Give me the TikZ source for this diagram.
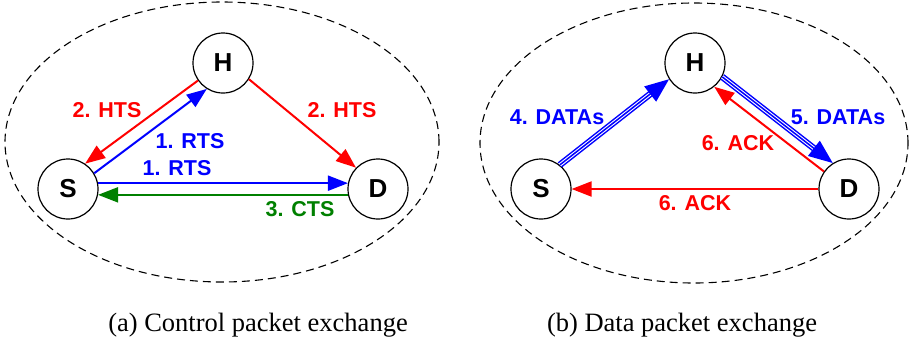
\documentclass[tikz,border=0pt]{standalone}
\usepackage{fontspec}
\setmainfont{Liberation Serif}
\setsansfont{Liberation Sans}
\usetikzlibrary{arrows.meta,calc}
\definecolor{myred}{RGB}{255,0,0}
\definecolor{myblue}{RGB}{0,0,255}
\definecolor{mygreen}{RGB}{0,128,0}
\begin{document}
\begin{tikzpicture}[x=1pt,y=-1pt,
  vert/.style={circle,draw,line width=1.2pt,minimum size=60pt,inner sep=0pt,font=\sffamily\bfseries\fontsize{26}{30}\selectfont},
  lab/.style={font=\sffamily\bfseries\fontsize{21.5}{25}\selectfont},
  captext/.style={font=\fontsize{26.5}{30}\selectfont},
  conn/.style={line width=2pt,-{Triangle[length=20pt,width=15pt]}},
  datal/.style={line width=1.5pt},
  border/.style={dashed,line width=1.1pt,dash pattern=on 8pt off 5pt}]
\useasboundingbox (0,0) rectangle (910,341);
% left panel
\draw[border] (222,142) ellipse [x radius=217pt, y radius=140pt];
\node[vert] (H1) at (223,63) {H};
\node[vert] (S1) at (68,189) {S};
\node[vert] (D1) at (378,189) {D};
\draw[conn,myred] (H1.215) -- (S1.56);
\draw[conn,myblue] (S1.31) -- (H1.238);
\draw[conn,myred] (H1.328) -- (D1.136);
\draw[conn,myblue] (S1.11) -- (D1.169);
\draw[conn,mygreen] (D1.191) -- (S1.349);
\node[lab,myred] (l1) at (107,110) {2. HTS};
\node[lab,myblue] (l2) at (190,141) {1. RTS};
\node[lab,myblue] (l3) at (177,168) {1. RTS};
\node[lab,myred] (l4) at (342,110) {2. HTS};
\node[lab,mygreen] (l5) at (300,209) {3. CTS};
\node[captext] (c1) at (258,325) {(a) Control packet exchange};
% right panel
\draw[border] (694,143) ellipse [x radius=214pt, y radius=140pt];
\node[vert] (H2) at (695,63) {H};
\node[vert] (S2) at (541,189) {S};
\node[vert] (D2) at (849,189) {D};
\coordinate (a1) at (S2.52);
\coordinate (a2) at (H2.212);
\coordinate (b1) at (H2.333);
\coordinate (b2) at (D2.122);
\draw[datal,myblue,double=white,double distance=3.6pt,shorten >=18pt] (a1) -- (a2);
\draw[myblue,line width=1.5pt,-{Triangle[length=24pt,width=19pt]}] (a1) -- (a2);
\draw[datal,myblue,double=white,double distance=3.6pt,shorten >=18pt] (b1) -- (b2);
\draw[myblue,line width=1.5pt,-{Triangle[length=24pt,width=19pt]}] (b1) -- (b2);
\draw[conn,myred] (D2.145) -- (H2.309);
\draw[conn,myred] (D2.west) -- (S2.east);
\node[lab,myblue] (m1) at (557,117) {4. DATAs};
\node[lab,myblue] (m2) at (838,117) {5. DATAs};
\node[lab,myred] (m3) at (738,143) {6. ACK};
\node[lab,myred] (m4) at (695,203) {6. ACK};
\node[captext] (c2) at (682,325) {(b) Data packet exchange};
\end{tikzpicture}
\end{document}
